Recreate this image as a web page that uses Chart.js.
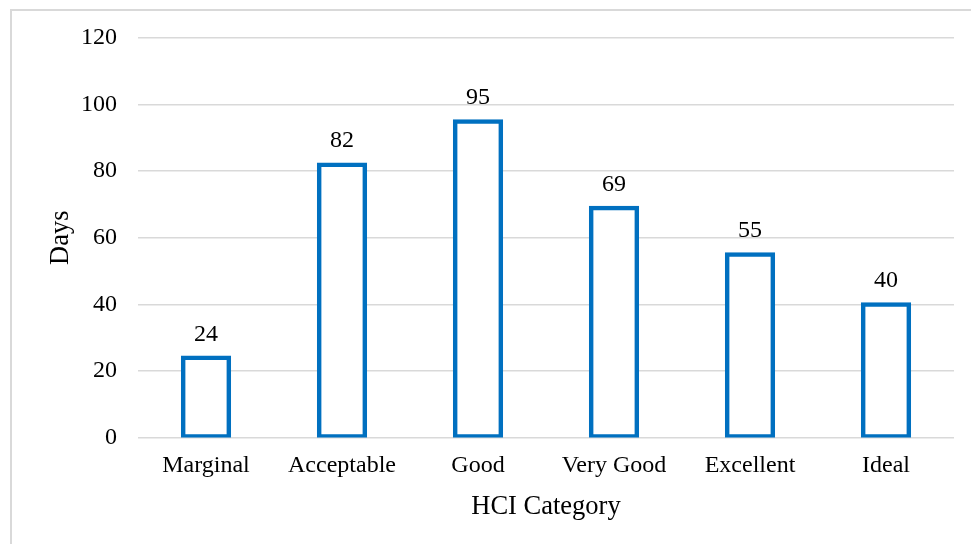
<!DOCTYPE html>
<html>
<head>
<meta charset="utf-8">
<script src="https://cdn.jsdelivr.net/npm/chart.js@4.4.1/dist/chart.umd.min.js"></script>
<style>
  html, body { margin: 0; padding: 0; background: #ffffff; }
  #wrap { position: relative; width: 971px; height: 544px; }
</style>
</head>
<body>
<div id="wrap"><canvas id="chart" width="971" height="544"></canvas></div>
<script>
// HCI categories and the number of days in each
const categories = ['Marginal', 'Acceptable', 'Good', 'Very Good', 'Excellent', 'Ideal'];
const days = [24, 82, 95, 69, 55, 40];
const yTicks = [0, 20, 40, 60, 80, 100, 120];

const BLUE = '#0070C0';
const GRID = '#d9d9d9';
const SERIF = '"Liberation Serif", "Times New Roman", serif';

// light frame around the chart
const framePlugin = {
  id: 'frame',
  beforeDraw(chart) {
    const ctx = chart.ctx;
    ctx.save();
    ctx.fillStyle = '#ffffff';
    ctx.fillRect(0, 0, chart.width, chart.height);
    ctx.strokeStyle = GRID;
    ctx.lineWidth = 2;
    ctx.strokeRect(11, 10, chart.width + 20, chart.height + 20);
    ctx.restore();
  }
};

// value written above each bar
const valueLabels = {
  id: 'valueLabels',
  afterDatasetsDraw(chart) {
    const ctx = chart.ctx;
    const meta = chart.getDatasetMeta(0);
    ctx.save();
    ctx.font = '24px ' + SERIF;
    ctx.fillStyle = '#000000';
    ctx.textAlign = 'center';
    ctx.textBaseline = 'alphabetic';
    meta.data.forEach((bar, i) => {
      ctx.fillText(String(days[i]), bar.x, bar.y - 17);
    });
    ctx.restore();
  }
};

new Chart(document.getElementById('chart'), {
  type: 'bar',
  data: {
    labels: categories,
    datasets: [{
      data: days,
      backgroundColor: '#ffffff',
      borderColor: BLUE,
      borderWidth: 4.5,
      borderSkipped: false,
      inflateAmount: 2,
      barPercentage: 0.34,
      categoryPercentage: 1
    }]
  },
  options: {
    responsive: false,
    animation: false,
    events: [],
    layout: { padding: { left: 45, right: 17, top: 38, bottom: 21 } },
    plugins: { legend: { display: false }, tooltip: { enabled: false } },
    scales: {
      x: {
        grid: { display: false, drawTicks: false },
        border: { display: false },
        ticks: { color: '#000', font: { family: SERIF, size: 24 }, padding: 14, maxRotation: 0 },
        title: { display: true, text: 'HCI Category', color: '#000', font: { family: SERIF, size: 26.5 }, padding: { top: -3, bottom: 0 } }
      },
      y: {
        min: 0, max: 120,
        afterBuildTicks(scale) { scale.ticks = yTicks.map(v => ({ value: v })); },
        afterFit(scale) { scale.width = 93; },
        grid: { color: GRID, lineWidth: 1.5, drawTicks: false },
        border: { display: false },
        ticks: { color: '#000', font: { family: SERIF, size: 24 }, padding: 21 },
        title: { display: true, text: 'Days', color: '#000', font: { family: SERIF, size: 26.5 }, padding: { top: 0, bottom: 0 } }
      }
    }
  },
  plugins: [framePlugin, valueLabels]
});
</script>
</body>
</html>
